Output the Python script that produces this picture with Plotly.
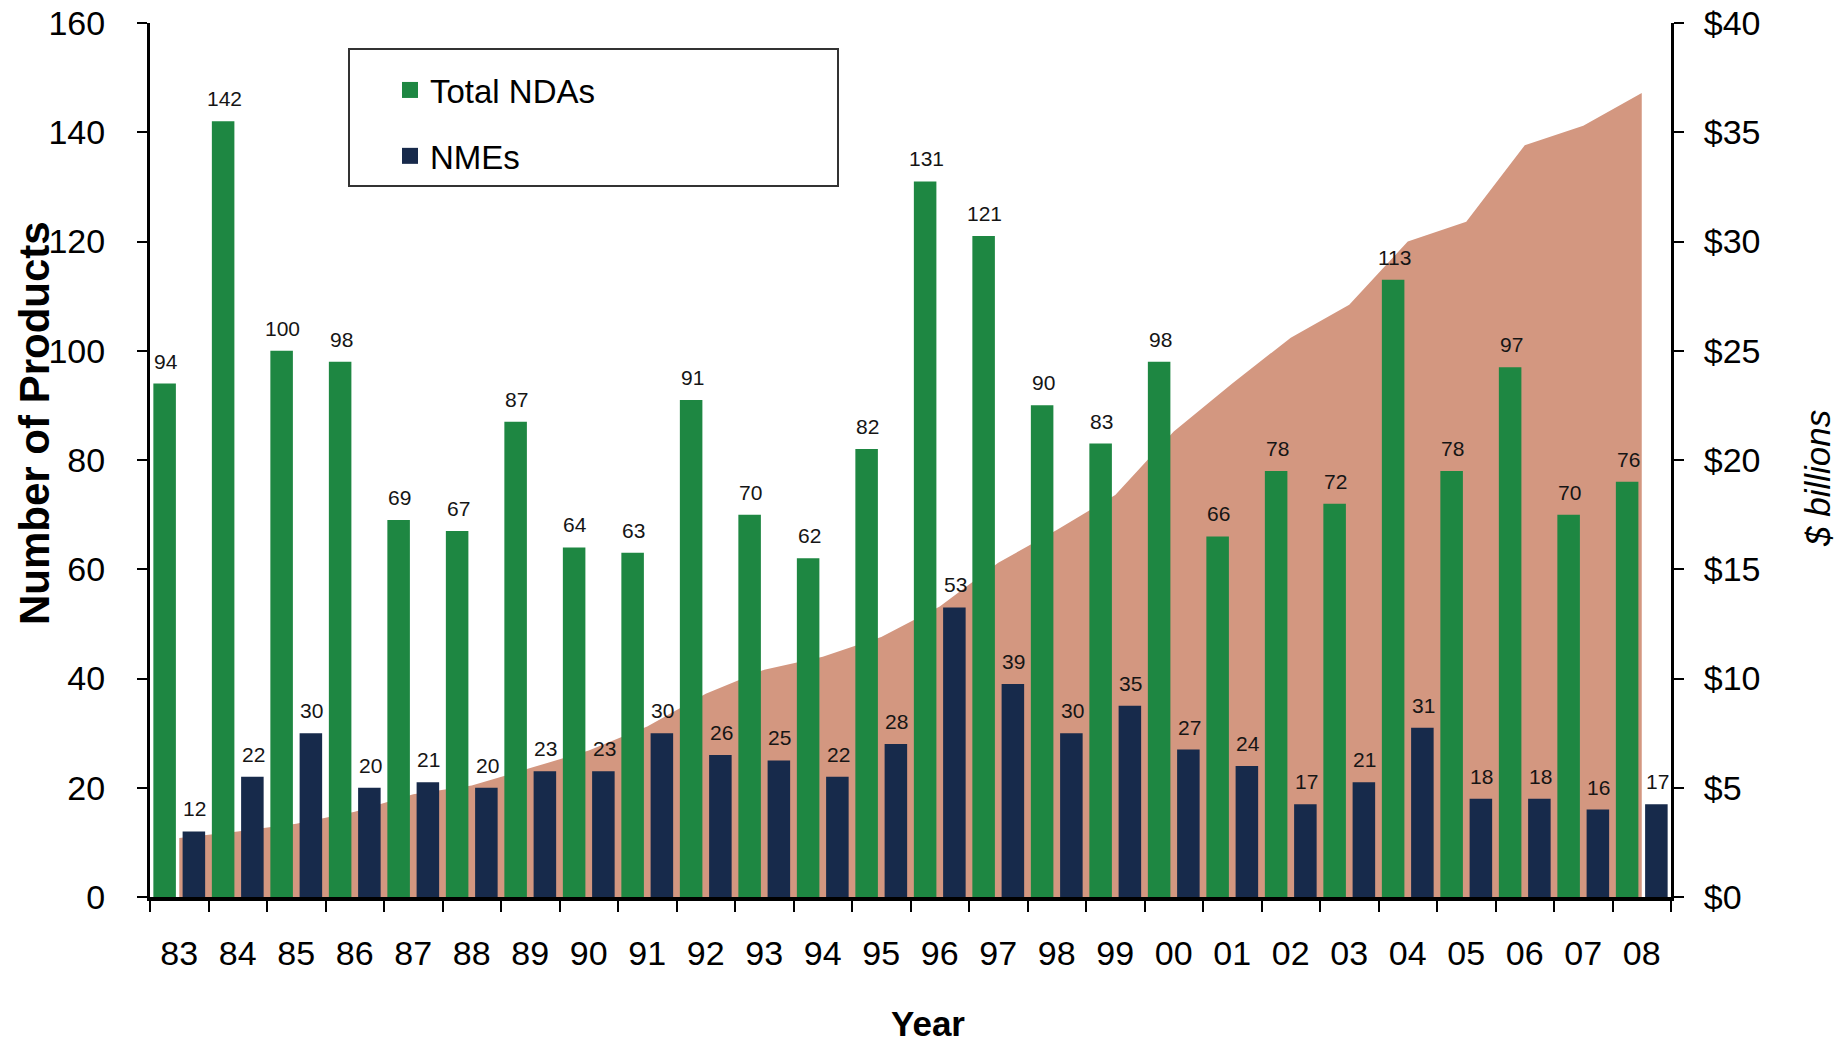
import plotly.graph_objects as go

years = ["83", "84", "85", "86", "87", "88", "89", "90", "91", "92", "93", "94", "95",
         "96", "97", "98", "99", "00", "01", "02", "03", "04", "05", "06", "07", "08"]
total_ndas = [94, 142, 100, 98, 69, 67, 87, 64, 63, 91, 70, 62, 82,
              131, 121, 90, 83, 98, 66, 78, 72, 113, 78, 97, 70, 76]
nmes = [12, 22, 30, 20, 21, 20, 23, 23, 30, 26, 25, 22, 28,
        53, 39, 30, 35, 27, 24, 17, 21, 31, 18, 18, 16, 17]
rd_spend = [2.7, 3.0, 3.35, 3.9, 4.7, 5.1, 5.9, 6.7, 7.8, 9.3, 10.4, 11.0, 11.9,
            13.3, 15.3, 16.8, 18.4, 21.3, 23.5, 25.6, 27.1, 30.0, 30.9, 34.4, 35.3, 36.8]

GREEN = "#1E8742"
NAVY = "#172A4B"
SALMON = "#D39780"

W, H = 1843, 1040
# page body has an 8px default margin; margins compensate for it
OFF = 8
PL, PT, PR, PB = 150, 23, 1671, 897          # target plot box on screen
ML, MT = PL - OFF, PT - OFF
MR, MB = (W + OFF) - PR, (H + OFF) - PB
plot_w = PR - PL
plot_h = PB - PT
slot = plot_w / len(years)

FAM = "Liberation Sans, Arial, sans-serif"
TICK_FONT = dict(family=FAM, size=34, color="black")
LABEL_FONT = dict(family="Liberation Sans Narrow, Arial Narrow, " + FAM, size=21, color="#151515")

fig = go.Figure()

fig.add_trace(go.Scatter(
    x=years, y=rd_spend, xaxis="x", yaxis="y",
    mode="lines", line=dict(width=0, color=SALMON),
    fill="tozeroy", fillcolor=SALMON, showlegend=False, hoverinfo="skip",
))

fig.add_trace(go.Bar(
    x=years, y=total_ndas, name="Total NDAs", xaxis="x", yaxis="y2",
    marker=dict(color=GREEN, line=dict(width=0)), showlegend=False,
))
fig.add_trace(go.Bar(
    x=years, y=nmes, name="NMEs", xaxis="x", yaxis="y2",
    marker=dict(color=NAVY, line=dict(width=0)), showlegend=False,
))

# legend-only entries (larger square swatches)
for name, col, grp in (("Total NDAs", GREEN, "a"), ("NMEs", NAVY, "b")):
    fig.add_trace(go.Scatter(
        x=[None], y=[None], xaxis="x", yaxis="y2", mode="markers", name=name,
        marker=dict(symbol="square", size=16, color=col), legendgroup=grp,
        showlegend=True,
    ))

annotations = []
for series, shift in ((total_ndas, -slot / 4), (nmes, slot / 4)):
    for idx, v in enumerate(series):
        annotations.append(dict(
            x=idx, y=v, xref="x", yref="y2", text=str(v), showarrow=False,
            yanchor="bottom", xanchor="center", xshift=shift + 1, yshift=9,
            font=LABEL_FONT,
        ))

annotations += [
    dict(text="<b>Number of Products</b>", xref="paper", yref="paper",
         x=(34 - PL) / plot_w, y=(PB - 423) / plot_h, textangle=-90, showarrow=False,
         font=dict(family=FAM, size=42, color="black"), borderpad=0,
         xanchor="center", yanchor="middle"),
    dict(text="<b>Year</b>", xref="paper", yref="paper", x=(928 - PL) / plot_w,
         y=(PB - 1024) / plot_h, showarrow=False,
         font=dict(family=FAM, size=35, color="black"),
         xanchor="center", yanchor="middle"),
    dict(text="<i>$ billions</i>", xref="paper", yref="paper", x=(1817 - PL) / plot_w,
         y=(PB - 478) / plot_h, textangle=-90, showarrow=False,
         font=dict(family=FAM, size=35, color="black"),
         xanchor="center", yanchor="middle"),
]

common_axis = dict(showgrid=False, showline=True, linecolor="black", ticks="outside",
                   tickwidth=2, tickcolor="black", tickfont=TICK_FONT, zeroline=False,
                   automargin=False, ticklabeloverflow="allow")

fig.update_layout(
    width=W, height=H,
    margin=dict(l=ML, r=MR, t=MT, b=MB, pad=0, autoexpand=False),
    paper_bgcolor="white", plot_bgcolor="white",
    barmode="group", bargap=0.0, bargroupgap=0.23,
    xaxis=dict(type="category", categoryorder="array", categoryarray=years,
               range=[-0.5, len(years) - 0.5], autorange=False,
               linewidth=4, tickson="boundaries", ticklen=11, tickangle=0,
               ticklabelstandoff=23, **common_axis),
    yaxis=dict(range=[0, 40], dtick=5, tickprefix="$", side="right",
               linewidth=3, ticklen=10, ticklabelstandoff=13, **common_axis),
    yaxis2=dict(range=[0, 160], dtick=20, overlaying="y", side="left",
                linewidth=3, ticklen=10, ticklabelstandoff=25, **common_axis),
    legend=dict(x=(390 - PL) / plot_w, y=(PB - 62) / plot_h, xanchor="left", yanchor="top",
                bgcolor="rgba(0,0,0,0)", borderwidth=0,
                font=dict(family=FAM, size=33, color="black"),
                tracegroupgap=20, itemwidth=30, traceorder="grouped"),
    shapes=[dict(type="rect", xref="paper", yref="paper",
                 x0=(349 - PL) / plot_w, x1=(838 - PL) / plot_w,
                 y0=(PB - 186) / plot_h, y1=(PB - 49) / plot_h,
                 line=dict(color="#333333", width=2), fillcolor="white", layer="below")],
    annotations=annotations,
    showlegend=True,
)

fig.write_html("out.html")
